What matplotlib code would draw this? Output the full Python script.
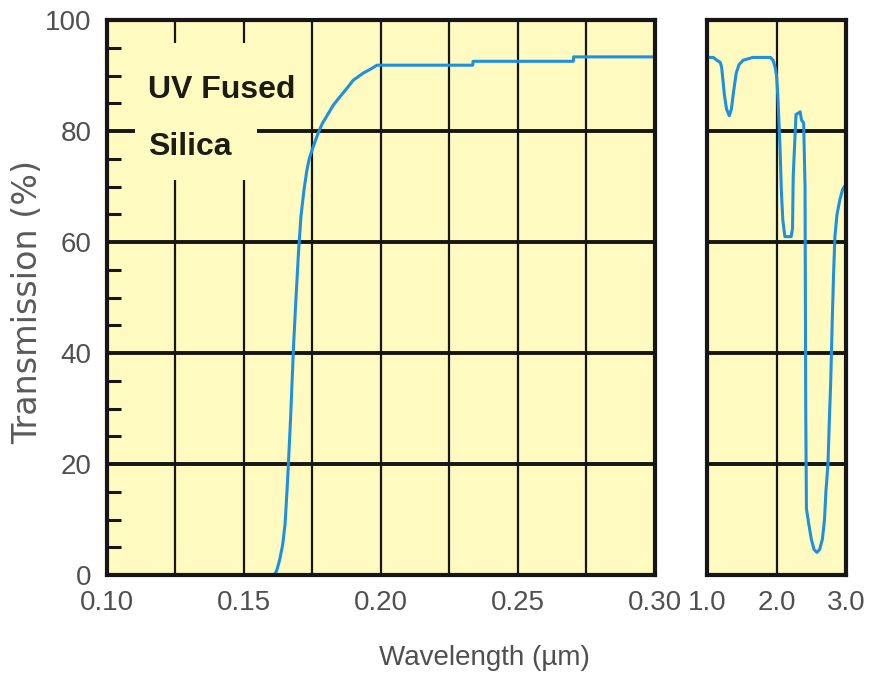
import matplotlib
matplotlib.use('Agg')
import matplotlib.pyplot as plt
from matplotlib.patches import Rectangle
from matplotlib.ticker import MultipleLocator

# UV range (left panel), wavelength in um and transmission in %
uv_wl = [0.1611, 0.1620, 0.1630, 0.1641, 0.1650, 0.1659, 0.1670, 0.1681, 0.1690,
         0.1699, 0.1708, 0.1719, 0.1729, 0.1738, 0.1747, 0.1757, 0.1768, 0.1777,
         0.1786, 0.1808, 0.1826, 0.1850, 0.1875, 0.1899, 0.1936, 0.1966, 0.1985,
         0.2335, 0.2336, 0.2702, 0.2703, 0.3000]
uv_T = [0, 0.9, 2.7, 5.4, 9.2, 16.9, 28.1, 41.4, 50.1,
        58.2, 64.7, 69.4, 72.8, 75.0, 76.4, 77.8, 79.3, 80.4,
        81.4, 83.2, 84.7, 86.2, 87.7, 89.2, 90.5, 91.3, 91.9,
        91.9, 92.6, 92.6, 93.4, 93.4]

# IR range (right panel)
ir_wl = [1.00, 1.09, 1.14, 1.19, 1.21, 1.23, 1.25, 1.28, 1.32, 1.35, 1.38, 1.42,
         1.46, 1.52, 1.66, 1.91, 1.95, 1.98, 2.00, 2.02, 2.05, 2.07, 2.09, 2.12,
         2.21, 2.23, 2.24, 2.28, 2.34, 2.36, 2.39, 2.41, 2.42, 2.43, 2.46, 2.50,
         2.54, 2.58, 2.62, 2.66, 2.69, 2.71, 2.74, 2.76, 2.78, 2.80, 2.82, 2.84,
         2.87, 2.91, 2.95, 3.00]
ir_T = [93.3, 93.3, 92.8, 92.4, 91.5, 89.0, 86.5, 84.0, 82.8, 84.0, 87.0, 90.5,
        92.0, 92.8, 93.3, 93.3, 92.8, 91.5, 90.0, 86.0, 77.0, 69.0, 64.0, 61.0,
        61.0, 62.5, 72.0, 83.0, 83.5, 82.0, 81.5, 70.0, 30.0, 12.0, 9.5, 6.5,
        4.6, 4.1, 4.6, 6.5, 10.0, 15.0, 20.0, 28.0, 35.0, 45.0, 54.0, 61.0,
        65.0, 67.6, 69.5, 70.5]

uv_ticks = [0.10, 0.125, 0.15, 0.175, 0.20, 0.225, 0.25, 0.275, 0.30]
uv_labels = ['0.10', '', '0.15', '', '0.20', '', '0.25', '', '0.30']
ir_ticks = [1.0, 2.0, 3.0]
ir_labels = ['1.0', '2.0', '3.0']
y_ticks = [0, 20, 40, 60, 80, 100]

bg = '#FFFAC0'
blue = '#1E90E0'
ink = '#161616'
grey = '#505050'
sans = 'Liberation Sans'

fig = plt.figure(figsize=(8.74, 6.75), dpi=100)
ax1 = fig.add_axes([0.1224, 0.148, 0.627, 0.822])
ax2 = fig.add_axes([0.809, 0.148, 0.159, 0.822])

for ax in (ax1, ax2):
    ax.set_facecolor(bg)
    ax.set_ylim(0, 100)
    ax.set_yticks(y_ticks)
    for s in ax.spines.values():
        s.set_color(ink)
        s.set_linewidth(3)
        s.set_zorder(5)
    ax.grid(axis='y', color=ink, lw=2.8, zorder=1)
    ax.grid(axis='x', color=ink, lw=1.6, zorder=1)
    ax.set_axisbelow(True)
    ax.tick_params(axis='both', which='major', length=0, labelsize=20,
                   labelcolor=grey, pad=11)

ax1.plot(uv_wl, uv_T, color=blue, lw=2.2, zorder=3)
ax1.set_xlim(0.10, 0.30)
ax1.set_xticks(uv_ticks)
ax1.set_xticklabels(uv_labels, family=sans)
ax1.set_yticklabels([str(v) for v in y_ticks], family=sans)
ax1.yaxis.set_minor_locator(MultipleLocator(5))
ax1.tick_params(axis='y', which='minor', direction='in', length=10, width=2.2,
                color=ink, left=True)
ax1.xaxis.set_minor_locator(plt.NullLocator())

# yellow patch hiding the grid behind the label
ax1.add_patch(Rectangle((0.1102, 71.2), 0.0445, 24.7, facecolor=bg,
                        edgecolor='none', zorder=2))
ax1.text(0.115, 85.9, 'UV Fused', fontsize=23, fontweight='bold', color='#1c1c14',
         family=sans, va='baseline', ha='left', zorder=4)
ax1.text(0.115, 75.7, 'Silica', fontsize=23, fontweight='bold', color='#1c1c14',
         family=sans, va='baseline', ha='left', zorder=4)

ax2.plot(ir_wl, ir_T, color=blue, lw=2.2, zorder=3)
ax2.set_xlim(1.0, 3.0)
ax2.set_xticks(ir_ticks)
ax2.set_xticklabels(ir_labels, family=sans)
ax2.set_yticklabels([])

fig.text(0.032, 0.553, 'Transmission (%)', rotation=90, fontsize=24, color='#5a5a5a',
         ha='center', va='center', family='DejaVu Sans')
fig.text(0.554, 0.015, 'Wavelength (\u00b5m)', fontsize=20, color=grey,
         ha='center', va='baseline', family=sans)

fig.savefig('out.png', dpi=100)
